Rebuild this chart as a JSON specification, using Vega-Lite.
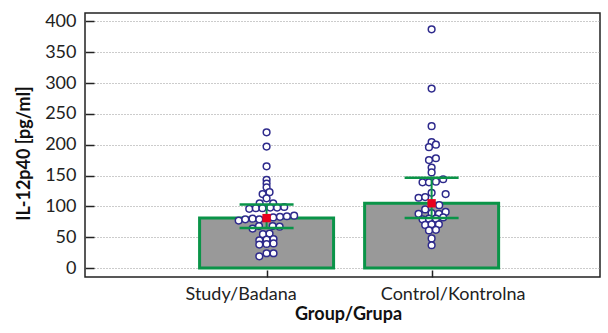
{
  "$schema": "https://vega.github.io/schema/vega-lite/v6.json",
  "width": 515,
  "height": 264,
  "autosize": {"type": "none"},
  "padding": {"left": 85, "top": 13, "right": 8, "bottom": 56},
  "background": "white",
  "config": {
    "view": {"stroke": "#222", "strokeWidth": 1.5},
    "font": "Lato",
    "axis": {"labelFont": "Lato", "titleFont": "Lato", "labelFontSize": 18, "titleFontSize": 18, "labelColor": "#222", "titleColor": "#111", "tickColor": "#222", "tickWidth": 1.5, "domain": false, "labelOverlap": false},
    "axisX": {"tickSize": -7, "labelPadding": 15, "titlePadding": 2, "grid": false, "titleX": 263},
    "axisY": {"tickSize": -9, "labelPadding": 18, "titlePadding": 11, "grid": true, "gridDash": [1, 2], "gridColor": "#999", "gridWidth": 1, "titleY": 140}
  },
  "datasets": {
    "points": [
      {"g": 1, "v": 220, "pos": 1.0}, {"g": 1, "v": 197, "pos": 1.0}, {"g": 1, "v": 165, "pos": 1.0}, {"g": 1, "v": 143, "pos": 1.0},
      {"g": 1, "v": 137, "pos": 1.0}, {"g": 1, "v": 131, "pos": 1.0}, {"g": 1, "v": 120, "pos": 0.976}, {"g": 1, "v": 123, "pos": 1.018},
      {"g": 1, "v": 113, "pos": 1.0}, {"g": 1, "v": 105, "pos": 0.958}, {"g": 1, "v": 105, "pos": 1.04}, {"g": 1, "v": 96, "pos": 0.895},
      {"g": 1, "v": 97, "pos": 0.935}, {"g": 1, "v": 97, "pos": 0.975}, {"g": 1, "v": 98, "pos": 1.022}, {"g": 1, "v": 98, "pos": 1.064},
      {"g": 1, "v": 99, "pos": 1.107}, {"g": 1, "v": 77, "pos": 0.831}, {"g": 1, "v": 79, "pos": 0.871}, {"g": 1, "v": 80, "pos": 0.915},
      {"g": 1, "v": 79, "pos": 0.956}, {"g": 1, "v": 82, "pos": 1.04}, {"g": 1, "v": 83, "pos": 1.081}, {"g": 1, "v": 84, "pos": 1.123},
      {"g": 1, "v": 85, "pos": 1.167}, {"g": 1, "v": 64, "pos": 0.915}, {"g": 1, "v": 68, "pos": 0.954}, {"g": 1, "v": 68, "pos": 1.037},
      {"g": 1, "v": 67, "pos": 1.079}, {"g": 1, "v": 55, "pos": 0.978}, {"g": 1, "v": 56, "pos": 1.018}, {"g": 1, "v": 45, "pos": 0.956},
      {"g": 1, "v": 46, "pos": 1.0}, {"g": 1, "v": 47, "pos": 1.042}, {"g": 1, "v": 38, "pos": 0.956}, {"g": 1, "v": 39, "pos": 1.0},
      {"g": 1, "v": 40, "pos": 1.042}, {"g": 1, "v": 19, "pos": 0.956}, {"g": 1, "v": 24, "pos": 1.0}, {"g": 1, "v": 24, "pos": 1.042},
      {"g": 2, "v": 387, "pos": 2.0}, {"g": 2, "v": 291, "pos": 2.0}, {"g": 2, "v": 230, "pos": 2.0}, {"g": 2, "v": 204, "pos": 2.0},
      {"g": 2, "v": 200, "pos": 2.026}, {"g": 2, "v": 196, "pos": 1.984}, {"g": 2, "v": 178, "pos": 2.026}, {"g": 2, "v": 175, "pos": 1.984},
      {"g": 2, "v": 163, "pos": 2.0}, {"g": 2, "v": 155, "pos": 2.0}, {"g": 2, "v": 139, "pos": 1.945}, {"g": 2, "v": 139, "pos": 1.984},
      {"g": 2, "v": 140, "pos": 2.026}, {"g": 2, "v": 144, "pos": 2.07}, {"g": 2, "v": 122, "pos": 2.0}, {"g": 2, "v": 120, "pos": 2.085},
      {"g": 2, "v": 114, "pos": 1.921}, {"g": 2, "v": 115, "pos": 1.961}, {"g": 2, "v": 102, "pos": 2.046}, {"g": 2, "v": 95, "pos": 1.961},
      {"g": 2, "v": 91, "pos": 2.085}, {"g": 2, "v": 88, "pos": 1.921}, {"g": 2, "v": 89, "pos": 2.0}, {"g": 2, "v": 88, "pos": 2.044},
      {"g": 2, "v": 79, "pos": 1.945}, {"g": 2, "v": 80, "pos": 1.984}, {"g": 2, "v": 80, "pos": 2.026}, {"g": 2, "v": 82, "pos": 2.07},
      {"g": 2, "v": 70, "pos": 1.961}, {"g": 2, "v": 71, "pos": 2.0}, {"g": 2, "v": 71, "pos": 2.044}, {"g": 2, "v": 61, "pos": 1.984},
      {"g": 2, "v": 62, "pos": 2.026}, {"g": 2, "v": 48, "pos": 2.0}, {"g": 2, "v": 37, "pos": 2.0}
    ],
    "summary": [
      {"g": 1, "mean": 81, "lo": 65, "hi": 103},
      {"g": 2, "mean": 105, "lo": 81, "hi": 146.5}
    ]
  },
  "layer": [
    {
      "data": {"name": "summary"},
      "mark": {"type": "bar", "width": 134, "fill": "#999999", "stroke": "#0a9448", "strokeWidth": 3},
      "encoding": {
        "x": {"field": "g", "type": "quantitative", "scale": {"domain": [-0.07, 2.99], "nice": false, "zero": false},
          "axis": {"values": [1, 2], "labelExpr": "datum.value == 1 ? 'Study/Badana' : 'Control/Kontrolna'", "labelOffset": {"condition": {"test": "datum.value == 1", "value": -26}, "value": 21}, "title": "Group/Grupa", "titleFontWeight": "bold"}},
        "y": {"field": "mean", "type": "quantitative", "scale": {"domain": [-14.5, 413.5], "nice": false, "zero": false},
          "axis": {"values": [0, 50, 100, 150, 200, 250, 300, 350, 400], "title": "IL-12p40 [pg/ml]", "titleFontWeight": "bold"}}
      }
    },
    {
      "data": {"name": "points"},
      "mark": {"type": "point", "shape": "circle", "filled": false, "fill": "white", "fillOpacity": 1, "stroke": "#2e2a8c", "strokeWidth": 1.5, "size": 45, "opacity": 1},
      "encoding": {
        "x": {"field": "pos", "type": "quantitative",
          "axis": {"values": [1, 2], "labelExpr": "datum.value == 1 ? 'Study/Badana' : 'Control/Kontrolna'", "labelOffset": {"condition": {"test": "datum.value == 1", "value": -26}, "value": 21}, "title": "Group/Grupa", "titleFontWeight": "bold"}},
        "y": {"field": "v", "type": "quantitative",
          "axis": {"values": [0, 50, 100, 150, 200, 250, 300, 350, 400], "title": "IL-12p40 [pg/ml]", "titleFontWeight": "bold"}}
      }
    },
    {
      "data": {"name": "summary"},
      "mark": {"type": "rule", "color": "#0a9448", "strokeWidth": 2},
      "encoding": {
        "x": {"field": "g", "type": "quantitative",
          "axis": {"values": [1, 2], "labelExpr": "datum.value == 1 ? 'Study/Badana' : 'Control/Kontrolna'", "labelOffset": {"condition": {"test": "datum.value == 1", "value": -26}, "value": 21}, "title": "Group/Grupa", "titleFontWeight": "bold"}},
        "y": {"field": "lo", "type": "quantitative",
          "axis": {"values": [0, 50, 100, 150, 200, 250, 300, 350, 400], "title": "IL-12p40 [pg/ml]", "titleFontWeight": "bold"}},
        "y2": {"field": "hi"}
      }
    },
    {
      "data": {"name": "summary"},
      "mark": {"type": "tick", "orient": "horizontal", "size": 54, "thickness": 2.5, "color": "#0a9448", "opacity": 1},
      "encoding": {
        "x": {"field": "g", "type": "quantitative",
          "axis": {"values": [1, 2], "labelExpr": "datum.value == 1 ? 'Study/Badana' : 'Control/Kontrolna'", "labelOffset": {"condition": {"test": "datum.value == 1", "value": -26}, "value": 21}, "title": "Group/Grupa", "titleFontWeight": "bold"}},
        "y": {"field": "lo", "type": "quantitative",
          "axis": {"values": [0, 50, 100, 150, 200, 250, 300, 350, 400], "title": "IL-12p40 [pg/ml]", "titleFontWeight": "bold"}}
      }
    },
    {
      "data": {"name": "summary"},
      "mark": {"type": "tick", "orient": "horizontal", "size": 54, "thickness": 2.5, "color": "#0a9448", "opacity": 1},
      "encoding": {
        "x": {"field": "g", "type": "quantitative",
          "axis": {"values": [1, 2], "labelExpr": "datum.value == 1 ? 'Study/Badana' : 'Control/Kontrolna'", "labelOffset": {"condition": {"test": "datum.value == 1", "value": -26}, "value": 21}, "title": "Group/Grupa", "titleFontWeight": "bold"}},
        "y": {"field": "hi", "type": "quantitative",
          "axis": {"values": [0, 50, 100, 150, 200, 250, 300, 350, 400], "title": "IL-12p40 [pg/ml]", "titleFontWeight": "bold"}}
      }
    },
    {
      "data": {"name": "summary"},
      "mark": {"type": "square", "color": "#e8001c", "size": 70, "opacity": 1},
      "encoding": {
        "x": {"field": "g", "type": "quantitative",
          "axis": {"values": [1, 2], "labelExpr": "datum.value == 1 ? 'Study/Badana' : 'Control/Kontrolna'", "labelOffset": {"condition": {"test": "datum.value == 1", "value": -26}, "value": 21}, "title": "Group/Grupa", "titleFontWeight": "bold"}},
        "y": {"field": "mean", "type": "quantitative",
          "axis": {"values": [0, 50, 100, 150, 200, 250, 300, 350, 400], "title": "IL-12p40 [pg/ml]", "titleFontWeight": "bold"}}
      }
    }
  ]
}
